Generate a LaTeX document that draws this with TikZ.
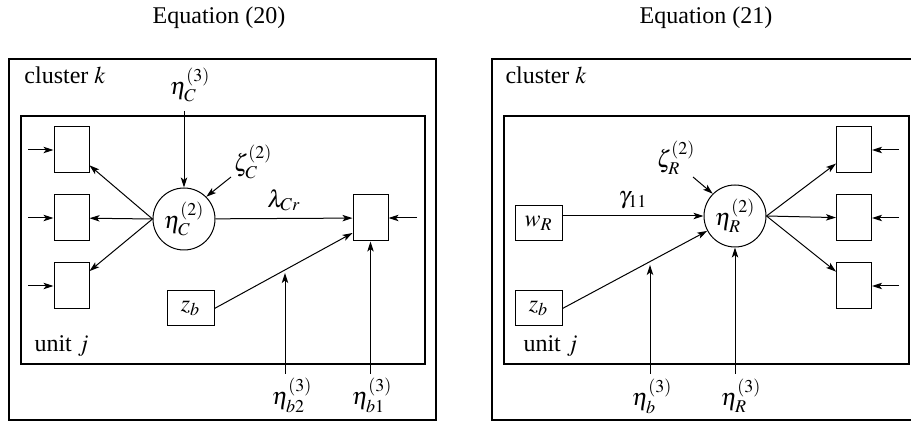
\documentclass[tikz,border=0pt]{standalone}
\usepackage{mathptmx}
\usepackage[no-math]{fontspec}
\setmainfont{Liberation Serif}
\usetikzlibrary{arrows.meta, positioning}

\begin{document}
\begin{tikzpicture}[x=0.5pt, y=-0.5pt, line width=0.5pt,
    >={Stealth[length=5pt, width=3.2pt, inset=1.2pt]},
    font=\fontsize{12}{14}\selectfont,
    frame/.style={line width=0.6pt},
    ind/.style={draw, minimum width=17.5pt, minimum height=23pt, inner sep=0pt},
    cov/.style={draw, minimum width=23.5pt, minimum height=17.5pt, inner sep=0pt},
    lat/.style={draw, circle, minimum size=31pt, inner sep=0pt},
    lbl/.style={inner sep=1pt}]
  \useasboundingbox (0,0) rectangle (911,422);

  % Titles
  \node[lbl] (titleA) at (219,18) {Equation (20)};
  \node[lbl] (titleB) at (706,18) {Equation (21)};

  % ---------- Equation (20) ----------
  \draw[frame] (9,59) rectangle (436,420);
  \draw[frame] (21,116) rectangle (425,364);
  \node[lbl, anchor=west] (clusterA) at (22,75) {cluster $k$};
  \node[lbl, anchor=west] (unitA) at (32,346) {unit $j$};

  % Nodes
  \node[lat] (etaC) at (184,219) {$\eta_C^{(2)}$};
  \node[ind] (yA1) at (71.5,150) {};
  \node[ind] (yA2) at (71.5,218) {};
  \node[ind] (yA3) at (71.5,286) {};
  \node[ind] (yA4) at (370.5,218) {};
  \node[cov] (zbA) at (190.5,308.5) {$z_b$};

  % Labels
  \node[lbl] (etaC3) at (190,85) {$\eta_C^{(3)}$};
  \node[lbl] (zetaC) at (253,162) {$\zeta_C^{(2)}$};
  \node[lbl] (etab2) at (292,395) {$\eta_{b2}^{(3)}$};
  \node[lbl] (etab1) at (372,395) {$\eta_{b1}^{(3)}$};

  % Free ends
  \coordinate (inA1) at (28,150);
  \coordinate (inA2) at (28,218);
  \coordinate (inA3) at (28,286);
  \coordinate (inA4) at (417,218);
  \coordinate (topA) at (184,111);
  \coordinate (zetaA) at (231,177);
  \coordinate (b2A) at (285,374);
  \coordinate (b1A) at (370.5,374);

  % Arrows
  \foreach \i in {1,2,3} {
    \draw[->] (inA\i) -- (yA\i);
    \draw[->] (etaC.west) -- (yA\i);
  }
  \draw[->] (inA4) -- (yA4);
  \draw[->] (topA) -- (etaC);
  \draw[->] (zetaA) -- (etaC.north east);
  \draw[->] (etaC) -- node[midway, above] {$\lambda_{Cr}$} (yA4);
  \draw[->] (zbA.east) -- coordinate[pos=0.51] (midA) ([yshift=-7.5pt]yA4.west);
  \draw[->, shorten >=1.5pt] (b2A) -- (b2A |- midA);
  \draw[->] (b1A) -- (yA4.south);

  % ---------- Equation (21) ----------
  \draw[frame] (492,59) rectangle (915,420);
  \draw[frame] (504,116) rectangle (909,364);
  \node[lbl, anchor=west] (clusterB) at (503,75) {cluster $k$};
  \node[lbl, anchor=west] (unitB) at (521,346) {unit $j$};

  % Nodes
  \node[lat] (etaR) at (735,216) {$\eta_R^{(2)}$};
  \node[cov] (wR) at (538.5,223.5) {$w_R$};
  \node[cov] (zbB) at (538.5,308.5) {$z_b$};
  \node[ind] (yB1) at (854,150) {};
  \node[ind] (yB2) at (854,218) {};
  \node[ind] (yB3) at (854,286) {};

  % Labels
  \node[lbl] (zetaR) at (676,158) {$\zeta_R^{(2)}$};
  \node[lbl] (etab) at (652,396) {$\eta_b^{(3)}$};
  \node[lbl] (etaR3) at (741,396) {$\eta_R^{(3)}$};

  % Free ends
  \coordinate (inB1) at (899,150);
  \coordinate (inB2) at (899,218);
  \coordinate (inB3) at (899,286);
  \coordinate (zetaB) at (693,177);
  \coordinate (bB) at (650,374);
  \coordinate (RB) at (735,374);

  % Arrows
  \foreach \i in {1,2,3} {
    \draw[->] (inB\i) -- (yB\i);
    \draw[->] (etaR.east) -- (yB\i);
  }
  \draw[->] (wR.east |- etaR) -- node[midway, above] {$\gamma_{11}$} (etaR);
  \draw[->] (zbB.east) -- coordinate[pos=0.6] (midB) (etaR);
  \draw[->, shorten >=1.5pt] (bB) -- (bB |- midB);
  \draw[->] (RB) -- (etaR.south);
  \draw[->] (zetaB) -- (etaR.north west);
\end{tikzpicture}
\end{document}
